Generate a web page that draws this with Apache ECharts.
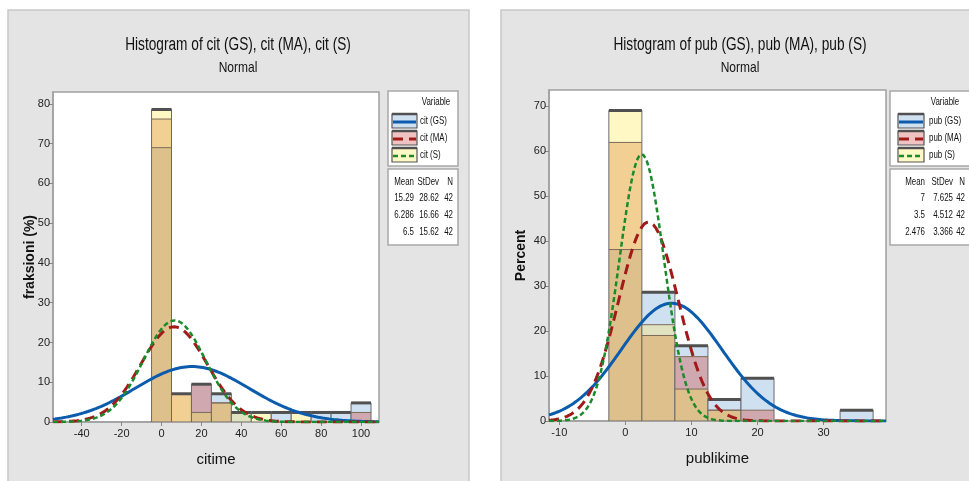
<!DOCTYPE html>
<html>
<head>
<meta charset="utf-8">
<script src="https://cdn.jsdelivr.net/npm/echarts@6/dist/echarts.min.js"></script>
<style>
html, body { margin: 0; padding: 0; background: #fff; }
#chart { width: 969px; height: 481px; }
</style>
</head>
<body>
<div id="chart"></div>
<script>
// ---- data (percent of 42 per bin) ----
const citBins = [0, 10, 20, 30, 40, 50, 60, 70, 80, 90, 100]
const citGS = [69.0, 0, 9.5, 7.1, 2.4, 0, 2.4, 0, 2.4, 2.4, 4.8]
const citMA = [76.2, 7.1, 9.5, 4.8, 0, 0, 0, 0, 0, 0, 2.4]
const citS = [78.6, 7.1, 2.4, 4.8, 2.4, 2.4, 0, 2.4, 0, 0, 0]

const pubBins = [0, 5, 10, 15, 20, 25, 30, 35]
const pubGS = [38.1, 28.6, 16.7, 4.8, 9.5, 0, 0, 2.4]
const pubMA = [61.9, 19.0, 14.3, 2.4, 2.4, 0, 0, 0]
const pubS = [69.0, 21.4, 7.1, 2.4, 0, 0, 0, 0]

const citNames = ['cit (GS)', 'cit (MA)', 'cit (S)']
const citMean = [15.29, 6.286, 6.5]
const citStDev = [28.62, 16.66, 15.62]
const citN = [42, 42, 42]

const pubNames = ['pub (GS)', 'pub (MA)', 'pub (S)']
const pubMean = [7, 3.5, 2.476]
const pubStDev = [7.625, 4.512, 3.366]
const pubN = [42, 42, 42]

const citTicksX = [-40, -20, 0, 20, 40, 60, 80, 100]
const citTicksY = [0, 10, 20, 30, 40, 50, 60, 70, 80]
const pubTicksX = [-10, 0, 10, 20, 30]
const pubTicksY = [0, 10, 20, 30, 40, 50, 60, 70]

// ---- styles ----
const FONT = '"Liberation Sans", Arial, sans-serif'
const fills = ['#cfe0f1', '#f0c2c2', '#fff7c4']
// blended fill for each overlap (bit0 GS, bit1 MA, bit2 S)
const overlap = { 1: '#cfe0f1', 2: '#f0c2c2', 4: '#fff7c4', 3: '#cfa8b0', 5: '#e0e2c0', 6: '#f2d094', 7: '#dec08c' }
const curveStyles = [
  { color: '#0b5cad', width: 3, type: 'solid' },
  { color: '#a01a1a', width: 3, type: [10, 6] },
  { color: '#1b8a2b', width: 2.5, type: [5, 3] },
]

function histRender(binWidth) {
  return function (params, api) {
    const c = api.value(0)
    const hs = [api.value(1), api.value(2), api.value(3)]
    const order = [0, 1, 2].sort((a, b) => hs[b] - hs[a])
    const x0 = api.coord([c - binWidth / 2, 0])[0]
    const x1 = api.coord([c + binWidth / 2, 0])[0]
    const yOf = v => api.coord([c, v])[1]
    const children = []
    let mask = 0
    for (let k = 0; k < 3; k++) {
      const i = order[k]
      const top = hs[i]
      const bottom = k < 2 ? hs[order[k + 1]] : 0
      mask |= 1 << i
      if (top > bottom) {
        children.push({ type: 'rect', shape: { x: x0, y: yOf(top), width: x1 - x0, height: yOf(bottom) - yOf(top) }, style: { fill: overlap[mask] } })
      }
    }
    const hMax = hs[order[0]]
    if (hMax <= 0) return { type: 'group', children }
    // inner edges of the lower bars
    for (let k = 1; k < 3; k++) {
      const h = hs[order[k]]
      if (h > 0 && h < hMax) {
        children.push({ type: 'line', shape: { x1: x0, y1: yOf(h), x2: x1, y2: yOf(h) }, style: { stroke: '#7a6a58', lineWidth: 1 } })
      }
    }
    children.push({ type: 'rect', shape: { x: x0, y: yOf(hMax), width: x1 - x0, height: yOf(0) - yOf(hMax) }, style: { fill: null, stroke: '#6a6a6a', lineWidth: 1 } })
    children.push({ type: 'line', shape: { x1: x0, y1: yOf(hMax), x2: x1, y2: yOf(hMax) }, style: { stroke: '#505050', lineWidth: 3 } })
    return { type: 'group', children }
  }
}

function normalCurve(mean, sd, binWidth, lo, hi) {
  const pts = []
  const n = 300
  for (let i = 0; i <= n; i++) {
    const x = lo + (hi - lo) * i / n
    const z = (x - mean) / sd
    pts.push([x, binWidth * 100 * Math.exp(-0.5 * z * z) / (sd * Math.sqrt(2 * Math.PI))])
  }
  return pts
}

// text squeezed sideways, the original uses a condensed face
function txt(x, y, text, size, align, sx) {
  return { type: 'text', x, y, scaleX: sx || 0.72, style: { text, font: size + 'px ' + FONT, fill: '#111', align: align || 'left', verticalAlign: 'middle' } }
}

function legendGraphics(cfg, names, means, sds, ns) {
  const els = []
  els.push({ type: 'rect', shape: { x: cfg.x, y: 91, width: cfg.w, height: 75 }, style: { fill: '#fff', stroke: '#a8a8a8', lineWidth: 1.5 } })
  els.push({ type: 'rect', shape: { x: cfg.x, y: 169, width: cfg.w, height: 76 }, style: { fill: '#fff', stroke: '#a8a8a8', lineWidth: 1.5 } })
  els.push(txt(cfg.varX, 102, 'Variable', 11, 'center'))
  names.forEach((name, i) => {
    const sy = 114 + i * 17
    const sx = cfg.x + cfg.swX
    els.push({ type: 'rect', shape: { x: sx, y: sy, width: cfg.swW, height: 14 }, style: { fill: fills[i], stroke: '#555', lineWidth: 1.2 } })
    els.push({ type: 'line', shape: { x1: sx, y1: sy, x2: sx + cfg.swW, y2: sy }, style: { stroke: '#505050', lineWidth: 2.5 } })
    els.push({ type: 'line', shape: { x1: sx + 1, y1: sy + 8, x2: sx + cfg.swW - 1, y2: sy + 8 }, style: { stroke: curveStyles[i].color, lineWidth: curveStyles[i].width, lineDash: curveStyles[i].type === 'solid' ? null : curveStyles[i].type } })
    els.push(txt(cfg.x + cfg.labX, sy + 7, name, 11))
  })
  els.push(txt(cfg.x + cfg.cols[0], 182, 'Mean', 11, 'right'))
  els.push(txt(cfg.x + cfg.cols[1], 182, 'StDev', 11, 'right'))
  els.push(txt(cfg.x + cfg.cols[2], 182, 'N', 11, 'right'))
  for (let i = 0; i < 3; i++) {
    const y = 198 + i * 17
    els.push(txt(cfg.x + cfg.cols[0], y, String(means[i]), 11, 'right'))
    els.push(txt(cfg.x + cfg.cols[1], y, String(sds[i]), 11, 'right'))
    els.push(txt(cfg.x + cfg.cols[2], y, String(ns[i]), 11, 'right'))
  }
  return els
}

function titleGraphics(cx, title) {
  return [
    txt(cx, 45, title, 18, 'center', 0.76),
    txt(cx, 68, 'Normal', 15, 'center', 0.8),
  ]
}

function xAxisOf(gridIndex, min, max, ticks, name) {
  return {
    type: 'value', gridIndex, min, max,
    name, nameLocation: 'middle', nameGap: 30, nameMoveOverlap: false,
    nameTextStyle: { fontSize: 15, fontFamily: FONT, color: '#111' },
    axisLine: { show: true, onZero: false, lineStyle: { color: '#a0a0a0', width: 1.5 } },
    axisTick: { show: true, length: 4, lineStyle: { color: '#888' }, customValues: ticks },
    axisLabel: { fontSize: 11, fontFamily: FONT, color: '#222', margin: 6, customValues: ticks },
    splitLine: { show: false },
  }
}

function yAxisOf(gridIndex, max, ticks, name, gap) {
  return {
    type: 'value', gridIndex, min: 0, max,
    name, nameLocation: 'middle', nameGap: gap, nameMoveOverlap: false,
    nameTextStyle: { fontSize: 14, fontWeight: 'bold', fontFamily: FONT, color: '#111' },
    axisLine: { show: true, onZero: false, lineStyle: { color: '#a0a0a0', width: 1.5 } },
    axisTick: { show: true, length: 4, lineStyle: { color: '#888' }, customValues: ticks },
    axisLabel: { fontSize: 11, fontFamily: FONT, color: '#222', margin: 3, customValues: ticks },
    splitLine: { show: false },
  }
}

const citRange = [-54.4, 109]
const pubRange = [-11.56, 39.45]

const series = [
  {
    type: 'custom', xAxisIndex: 0, yAxisIndex: 0, clip: true, z: 2,
    renderItem: histRender(10),
    data: citBins.map((c, i) => [c, citGS[i], citMA[i], citS[i]]),
  },
  {
    type: 'custom', xAxisIndex: 1, yAxisIndex: 1, clip: true, z: 2,
    renderItem: histRender(5),
    data: pubBins.map((c, i) => [c, pubGS[i], pubMA[i], pubS[i]]),
  },
]
citNames.forEach((name, i) => {
  series.push({
    name, type: 'line', xAxisIndex: 0, yAxisIndex: 0, showSymbol: false, z: 5, clip: true, silent: true,
    lineStyle: curveStyles[i],
    data: normalCurve(citMean[i], citStDev[i], 10, citRange[0], citRange[1]),
  })
})
pubNames.forEach((name, i) => {
  series.push({
    name, type: 'line', xAxisIndex: 1, yAxisIndex: 1, showSymbol: false, z: 5, clip: true, silent: true,
    lineStyle: curveStyles[i],
    data: normalCurve(pubMean[i], pubStDev[i], 5, pubRange[0], pubRange[1]),
  })
})

const chart = echarts.init(document.getElementById('chart'))
chart.setOption({
  backgroundColor: '#fff',
  animation: false,
  grid: [
    { left: 53, top: 92, width: 326, height: 330, show: true, backgroundColor: '#fff', borderColor: '#a0a0a0', borderWidth: 1.5 },
    { left: 549, top: 90, width: 337, height: 331, show: true, backgroundColor: '#fff', borderColor: '#a0a0a0', borderWidth: 1.5 },
  ],
  xAxis: [
    xAxisOf(0, citRange[0], citRange[1], citTicksX, 'citime'),
    xAxisOf(1, pubRange[0], pubRange[1], pubTicksX, 'publikime'),
  ],
  yAxis: [
    yAxisOf(0, 83, citTicksY, 'fraksioni (%)', 16),
    yAxisOf(1, 73.55, pubTicksY, 'Percent', 21),
  ],
  graphic: [
    { type: 'rect', z: -10, shape: { x: 8, y: 10, width: 461, height: 480 }, style: { fill: '#e4e4e4', stroke: '#c8c8c8', lineWidth: 1.5 } },
    { type: 'rect', z: -10, shape: { x: 501, y: 10, width: 480, height: 480 }, style: { fill: '#e4e4e4', stroke: '#c8c8c8', lineWidth: 1.5 } },
    ...titleGraphics(238, 'Histogram of cit (GS), cit (MA), cit (S)'),
    ...titleGraphics(740, 'Histogram of pub (GS), pub (MA), pub (S)'),
    ...legendGraphics({ x: 388, w: 70, varX: 436, swX: 4, swW: 25, labX: 32, cols: [26, 51, 65] }, citNames, citMean, citStDev, citN),
    ...legendGraphics({ x: 890, w: 85, varX: 945, swX: 8, swW: 26, labX: 39, cols: [35, 63, 75] }, pubNames, pubMean, pubStDev, pubN),
  ],
  series,
})
</script>
</body>
</html>
